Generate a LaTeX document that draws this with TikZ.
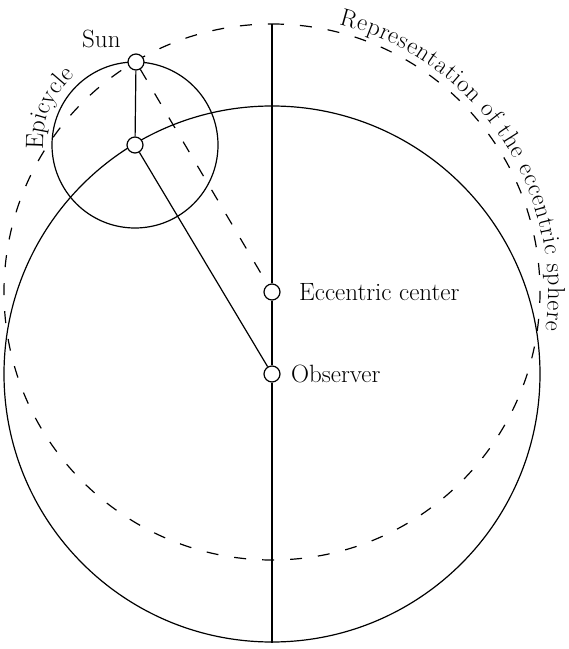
\documentclass[tikz,border=0pt]{standalone}
\usetikzlibrary{decorations.text}
\begin{document}
\begin{tikzpicture}[x=1pt,y=1pt,
  lw/.style={line width=1.2pt},
  dsh/.style={line width=1.2pt, dash pattern=on 12pt off 16pt},
  pt/.style={circle, draw, fill=white, line width=1.2pt, minimum size=16pt, inner sep=0pt},
  lbl/.style={font=\fontsize{25}{30}\selectfont, inner sep=0pt}
]
\useasboundingbox (0,0) rectangle (569,649);
% geometry
\coordinate (cO) at (272,275);
\coordinate (cE) at (272,357);
\coordinate (cS) at (136,587);
\coordinate (cC) at (135,504);
\coordinate (T) at (272,625);
\coordinate (B) at (272,6);
% circles
\draw[lw] (cO) circle[radius=268];
\draw[dsh] (T) arc[start angle=90, end angle=-270, radius=268];
\draw[lw] (cC) circle[radius=83];
% nodes
\node[pt] (S) at (cS) {};
\node[pt] (C) at (cC) {};
\node[pt] (E) at (cE) {};
\node[pt] (O) at (cO) {};
% connectors
\draw[lw] (T) -- (E);
\draw[lw] (E) -- (O);
\draw[lw] (O) -- (B);
\draw[lw] (S) -- (C);
\draw[lw] (C) -- (O);
\draw[dsh] (S) -- (E);
% labels
\node[lbl, anchor=base west] (lsun) at (82,601) {Sun};
\node[lbl, anchor=base west] (lec) at (299,348) {Eccentric center};
\node[lbl, anchor=base west] (lob) at (291,266) {Observer};
\path[decorate, decoration={text along path, text align=left,
  text={|\fontsize{25}{30}\selectfont|Epicycle}}]
  (cC) ++(183:92) arc[start angle=183, end angle=110, radius=92];
\path[decorate, decoration={text along path, text align=fit to path,
  text={|\fontsize{24.5}{30}\selectfont|Representation of the eccentric sphere}}]
  (cE) ++(76:276) arc[start angle=76, end angle=-8, radius=276];
\end{tikzpicture}
\end{document}
